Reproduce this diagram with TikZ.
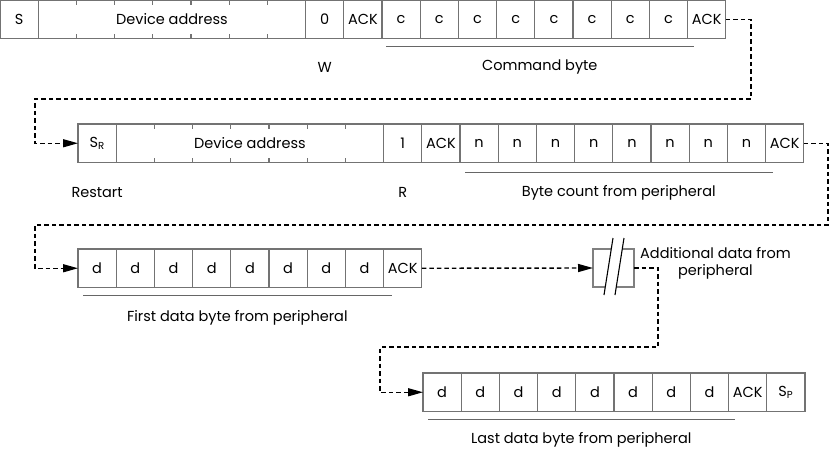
\documentclass[tikz,border=0pt]{standalone}
\usepackage{fontspec}
\setmainfont{Poppins}
\usetikzlibrary{positioning,arrows.meta}
\def\cw{38.2}
\tikzset{
  cell/.style={draw=black!55, line width=1.1pt, minimum width=\cw pt, minimum height=38.5pt,
    inner sep=0pt, outer sep=0pt, anchor=north west, font=\fontsize{14.5}{17}\selectfont},
  wide/.style={cell, minimum width=7*\cw pt},
  tick/.style={draw=black!55, line width=1.1pt},
  uline/.style={draw=black!60, line width=1.1pt},
  lbl/.style={font=\fontsize{14.5}{17}\selectfont, inner sep=0pt},
  flow/.style={line width=1.4pt, dash pattern=on 4.5pt off 3pt, -{Triangle[length=15pt,width=8pt]}},
  flownoarr/.style={line width=1.4pt, dash pattern=on 4.5pt off 3pt}
}
\begin{document}
\begin{tikzpicture}[x=1pt, y=-1pt, line cap=butt, line join=miter]
	\useasboundingbox (0,0) rectangle (831,451);
	% write: address + command byte
	\node[cell] (s) at (0,0) {S};
	\node[wide] (addr1) at (\cw,0) {Device address};
	\node[cell] (bitw) at (8*\cw,0) {0};
	\node[cell] (ack1) at (9*\cw,0) {ACK};
	\foreach \i in {1,...,8}
		\node[cell] (c\i) at ({(9+\i)*\cw},0) {c};
	\node[cell] (ack2) at (18*\cw,0) {ACK};
	\draw[uline] ([xshift=4pt,yshift=-8pt]c1.south west) -- ([xshift=6pt,yshift=-8pt]c8.south east) coordinate[midway] (cmid);
	\node[lbl] at ([yshift=-21pt]cmid) {Command byte};
	\node[lbl] at ([yshift=-29pt]bitw.south) {W};
	% restart + read + byte count
	\node[cell] (sr) at (78,124) {S\textsubscript{R}};
	\node[wide] (addr2) at (78+\cw,124) {Device address};
	\node[cell] (bitr) at (78+8*\cw,124) {1};
	\node[cell] (ack3) at (78+9*\cw,124) {ACK};
	\foreach \i in {1,...,8}
		\node[cell] (n\i) at ({78+(9+\i)*\cw},124) {n};
	\node[cell] (ack4) at (78+18*\cw,124) {ACK};
	\draw[uline] ([xshift=5pt,yshift=-10pt]n1.south west) -- ([xshift=7pt,yshift=-10pt]n8.south east) coordinate[midway] (nmid);
	\node[lbl] at ([yshift=-20pt]nmid) {Byte count from peripheral};
	\node[lbl] at ([yshift=-30pt]sr.south) {Restart};
	\node[lbl] at ([yshift=-30pt]bitr.south) {R};
	% ticks inside the address fields
	\foreach \a in {addr1,addr2}
		\foreach \k in {1,...,6}
			\draw[tick] ([xshift={\k*\cw*1pt}]\a.north west) -- ++(0,5)
				([xshift={\k*\cw*1pt}]\a.south west) -- ++(0,-5);
	% first data byte
	\foreach \i in {1,...,8}
		\node[cell] (d\i) at ({78+(\i-1)*\cw},249) {d};
	\node[cell] (ack5) at (78+8*\cw,249) {ACK};
	\draw[uline] ([xshift=5pt,yshift=-8pt]d1.south west) -- ([xshift=8pt,yshift=-8pt]d8.south east) coordinate[midway] (dmid);
	\node[lbl] at ([yshift=-22pt]dmid) {First data byte from peripheral};
	% break
	\node[draw=black!50, line width=1.1pt, minimum width=41pt, minimum height=38pt, inner sep=0pt, outer sep=0pt] (brk) at (613.5,268) {};
	\fill[white] ([shift={(-9.5,27)}]brk.center) -- ([shift={(-0.5,-30)}]brk.center)
		-- ([shift={(10.5,-30)}]brk.center) -- ([shift={(1.5,27)}]brk.center) -- cycle;
	\draw[line width=1.1pt] ([shift={(-9.5,27)}]brk.center) -- ([shift={(-0.5,-30)}]brk.center)
		([shift={(1.5,27)}]brk.center) -- ([shift={(10.5,-30)}]brk.center);
	\node[lbl, align=center, right=6pt of brk, yshift=5pt] (more) {Additional data from\\peripheral};
	% last data byte
	\foreach \i in {1,...,8}
		\node[cell] (e\i) at ({423+(\i-1)*\cw},373) {d};
	\node[cell] (ack6) at (423+8*\cw,373) {ACK};
	\node[cell] (sp) at (423+9*\cw,373) {S\textsubscript{P}};
	\draw[uline] ([xshift=5pt,yshift=-8pt]e1.south west) -- ([xshift=6pt,yshift=-8pt]e8.south east) coordinate[midway] (emid);
	\node[lbl] at ([yshift=-20pt]emid) {Last data byte from peripheral};
	% connectors
	\coordinate (turn1) at (35,99);
	\coordinate (turn2) at (35,225);
	\coordinate (turn3) at (380,347);
	\draw[flow] (ack2.east) -- ++(25,0) |- (turn1) |- (sr.west);
	\draw[flow] (ack4.east) -- ++(24,0) |- (turn2) |- (d1.west);
	\draw[flow] (ack5.east) -- (brk.west);
	\draw[flow] (brk.east) -- ++(24,0) |- (turn3) |- (e1.west);
\end{tikzpicture}
\end{document}
